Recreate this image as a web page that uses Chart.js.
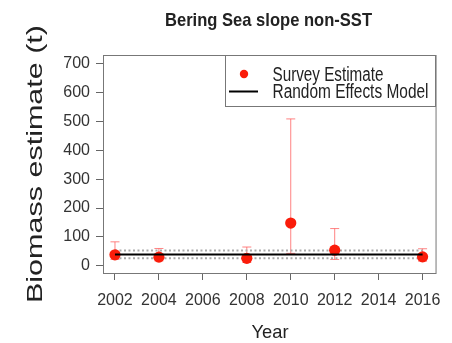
<!DOCTYPE html>
<html>
<head>
<meta charset="utf-8">
<script src="https://cdn.jsdelivr.net/npm/chart.js@4/dist/chart.umd.min.js"></script>
<style>
  html, body { margin: 0; padding: 0; background: #fff; }
  #wrap { width: 452px; height: 343px; }
</style>
</head>
<body>
<div id="wrap"><canvas id="c" width="452" height="343"></canvas></div>
<script>
// Survey years and biomass estimates (t) with their interval bounds
const years = [2002, 2004, 2008, 2010, 2012, 2016];
const estimate = [38, 30, 26, 148, 54, 31];
const upperBound = [83, 60, 65, 509, 129, 59];
const lowerBound = [22, 17, 12, 43, 22, 16];

// Random effects model fit and its interval
const modelYears = [2002, 2016];
const modelFit = [39, 39];
const modelUpper = [53, 53];
const modelLower = [26, 26];

// Axis tick values
const xTickValues = [2002, 2004, 2006, 2008, 2010, 2012, 2014, 2016];
const yTickValues = [0, 100, 200, 300, 400, 500, 600, 700];

const pointRed = 'rgb(250, 28, 10)';
const barRed = 'rgba(255, 90, 90, 0.75)';
const textCol = '#222';
const tickFont = "'Liberation Sans Narrow', 'Liberation Sans', Arial, sans-serif";

const pts = (xs, ys) => xs.map((x, i) => ({ x: x, y: ys[i] }));

// Draws a string stretched horizontally to a given width
function fitText(ctx, text, x, y, font, width, align) {
  ctx.save();
  ctx.font = font;
  const w = ctx.measureText(text).width;
  ctx.translate(x, y);
  ctx.scale(width / w, 1);
  ctx.textAlign = align;
  ctx.textBaseline = 'alphabetic';
  ctx.fillStyle = textCol;
  ctx.fillText(text, 0, 0);
  ctx.restore();
}

// Vertical interval bars with caps, under the points
const errorBars = {
  id: 'errorBars',
  beforeDatasetsDraw(chart) {
    const { ctx, scales: { x, y } } = chart;
    ctx.save();
    ctx.strokeStyle = barRed;
    ctx.lineWidth = 1;
    years.forEach((yr, i) => {
      const px = x.getPixelForValue(yr);
      const top = y.getPixelForValue(upperBound[i]);
      const bot = y.getPixelForValue(lowerBound[i]);
      ctx.beginPath();
      ctx.moveTo(px, top); ctx.lineTo(px, bot);
      ctx.moveTo(px - 4.5, top); ctx.lineTo(px + 4.5, top);
      ctx.moveTo(px - 4.5, bot); ctx.lineTo(px + 4.5, bot);
      ctx.stroke();
    });
    ctx.restore();
  }
};

// Frame, legend and text labels
const decorations = {
  id: 'decorations',
  afterDraw(chart) {
    const { ctx, chartArea: a } = chart;
    ctx.save();
    ctx.strokeStyle = '#777';
    ctx.lineWidth = 1;
    ctx.strokeRect(a.left + 0.5, a.top + 0.5, a.right - a.left, a.bottom - a.top);

    // legend box
    ctx.strokeStyle = '#777';
    ctx.strokeRect(225.5, a.top + 0.5, a.right - 225.5, 51);
    ctx.fillStyle = pointRed;
    ctx.beginPath();
    ctx.arc(244, 74, 4.2, 0, Math.PI * 2);
    ctx.fill();
    ctx.strokeStyle = '#000';
    ctx.lineWidth = 2;
    ctx.beginPath();
    ctx.moveTo(229, 91.5); ctx.lineTo(258, 91.5);
    ctx.stroke();
    ctx.restore();

    fitText(ctx, 'Survey Estimate', 272.5, 81, '20px "Liberation Sans", Arial, sans-serif', 111, 'left');
    fitText(ctx, 'Random Effects Model', 272.5, 97.5, '20px "Liberation Sans", Arial, sans-serif', 156, 'left');

    // title
    fitText(ctx, 'Bering Sea slope non-SST', 268.5, 26, 'bold 19px "Liberation Sans", Arial, sans-serif', 207, 'center');

    // x axis title
    fitText(ctx, 'Year', 270, 338, '18.5px "Liberation Sans", Arial, sans-serif', 37, 'center');

    // y axis title, rotated
    ctx.save();
    ctx.translate(41.5, 164);
    ctx.rotate(-Math.PI / 2);
    fitText(ctx, 'Biomass estimate (t)', 0, 0, '22px "Liberation Sans", Arial, sans-serif', 278, 'center');
    ctx.restore();
  }
};

new Chart(document.getElementById('c'), {
  type: 'scatter',
  data: {
    datasets: [
      {
        type: 'line',
        label: 'Random Effects Model',
        data: pts(modelYears, modelFit),
        borderColor: '#000',
        borderWidth: 2,
        pointRadius: 0,
        fill: false
      },
      {
        label: 'Survey Estimate',
        data: pts(years, estimate),
        backgroundColor: pointRed,
        borderColor: pointRed,
        pointRadius: 5.6,
        borderWidth: 0
      },
      {
        type: 'line',
        label: 'Upper',
        data: pts(modelYears, modelUpper),
        borderColor: '#a9a9a9',
        borderWidth: 2,
        borderDash: [2, 2.5],
        pointRadius: 0,
        fill: false
      },
      {
        type: 'line',
        label: 'Lower',
        data: pts(modelYears, modelLower),
        borderColor: '#a9a9a9',
        borderWidth: 2,
        borderDash: [2, 2.5],
        pointRadius: 0,
        fill: false
      }
    ]
  },
  options: {
    responsive: false,
    animation: false,
    devicePixelRatio: 1,
    layout: { padding: { top: 55, right: 16, bottom: 0, left: 0 } },
    plugins: {
      legend: { display: false },
      tooltip: { enabled: false },
      title: { display: false }
    },
    scales: {
      x: {
        type: 'linear',
        min: 2001.455,
        max: 2016.59,
        afterBuildTicks: s => { s.ticks = xTickValues.map(v => ({ value: v })); },
        afterFit: s => { s.height = 70; },
        grid: { drawOnChartArea: false, drawTicks: true, tickLength: 7, color: '#666' },
        border: { display: true, color: '#777' },
        ticks: {
          autoSkip: false,
          maxRotation: 0,
          padding: 11,
          color: '#333',
          font: { family: tickFont, size: 16 },
          callback: v => String(v)
        }
      },
      y: {
        type: 'linear',
        min: -25,
        max: 730.5,
        afterBuildTicks: s => { s.ticks = yTickValues.map(v => ({ value: v })); },
        afterFit: s => { s.width = 103; },
        grid: { drawOnChartArea: false, drawTicks: true, tickLength: 7, color: '#666' },
        border: { display: true, color: '#777' },
        ticks: {
          padding: 6,
          color: '#333',
          font: { family: tickFont, size: 16 },
          callback: v => String(v)
        }
      }
    }
  },
  plugins: [errorBars, decorations]
});
</script>
</body>
</html>
